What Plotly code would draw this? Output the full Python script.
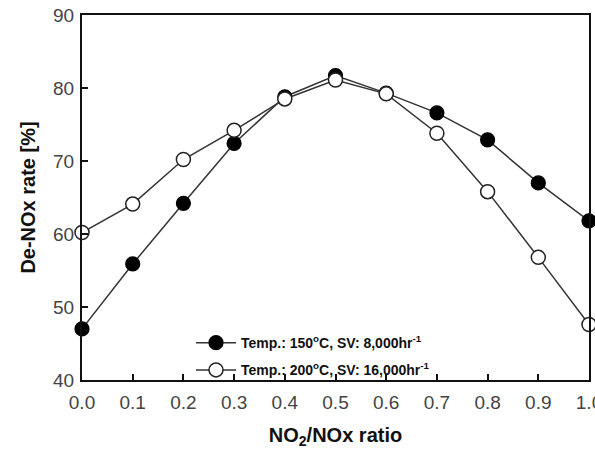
import plotly.graph_objects as go

ratio = [0.0, 0.1, 0.2, 0.3, 0.4, 0.5, 0.6, 0.7, 0.8, 0.9, 1.0]
rate_150 = [47.0, 55.9, 64.2, 72.4, 78.8, 81.7, 79.3, 76.6, 72.9, 67.0, 61.8]
rate_200 = [60.2, 64.1, 70.2, 74.2, 78.5, 81.1, 79.2, 73.8, 65.8, 56.8, 47.6]
name_150 = "<b>Temp.: 150<sup>o</sup>C, SV: 8,000hr<sup>-1</sup></b>"
name_200 = "<b>Temp.: 200<sup>o</sup>C, SV: 16,000hr<sup>-1</sup></b>"
x_ticks = [0.0, 0.1, 0.2, 0.3, 0.4, 0.5, 0.6, 0.7, 0.8, 0.9, 1.0]
y_ticks = [40, 50, 60, 70, 80, 90]

fig = go.Figure()
fig.add_trace(go.Scatter(
    x=ratio, y=rate_150, name=name_150, mode="lines+markers", legendgroup="a",
    line=dict(color="#333333", width=1.5),
    marker=dict(symbol="circle", size=14, color="black", line=dict(color="black", width=1.2)),
    cliponaxis=False,
))
fig.add_trace(go.Scatter(
    x=ratio, y=rate_200, name=name_200, mode="lines+markers", legendgroup="b",
    line=dict(color="#333333", width=1.5),
    marker=dict(symbol="circle", size=14, color="white", line=dict(color="#222222", width=1.5)),
    cliponaxis=False,
))

fig.update_layout(
    width=595, height=455,
    margin=dict(l=82, r=6, t=15, b=75),
    plot_bgcolor="white", paper_bgcolor="white",
    font=dict(family="Liberation Sans, Arial, sans-serif", color="#222222"),
    showlegend=True,
    legend=dict(
        x=0.215, y=0.145, xanchor="left", yanchor="top",
        bgcolor="rgba(0,0,0,0)", borderwidth=0,
        font=dict(size=14, color="#111111", family="Liberation Sans, Arial, sans-serif"),
        tracegroupgap=6, itemwidth=40, traceorder="grouped",
    ),
    xaxis=dict(
        range=[0, 1.0], tickvals=x_ticks, ticktext=[f"{v:.1f}" for v in x_ticks],
        ticks="inside", ticklen=6, tickwidth=1.5, tickcolor="#111111",
        showline=True, linecolor="#111111", linewidth=2, mirror=True,
        showgrid=False, zeroline=False, ticklabeloverflow="allow", automargin=False,
        ticklabelstandoff=4,
        tickfont=dict(size=19, color="#444444"),
        title=dict(text="<b>NO<sub>2</sub>/NOx ratio</b>", font=dict(size=20, color="#111111"), standoff=16),
    ),
    yaxis=dict(
        range=[40, 90], tickvals=y_ticks,
        ticks="inside", ticklen=6, tickwidth=1.5, tickcolor="#111111",
        showline=True, linecolor="#111111", linewidth=2, mirror=True,
        showgrid=False, zeroline=False, automargin=False,
        ticklabelstandoff=2,
        tickfont=dict(size=19, color="#444444"),
        title=dict(text="<b>De-NOx rate [%]</b>", font=dict(size=20, color="#111111"), standoff=12),
    ),
)

fig.write_html("out.html")
